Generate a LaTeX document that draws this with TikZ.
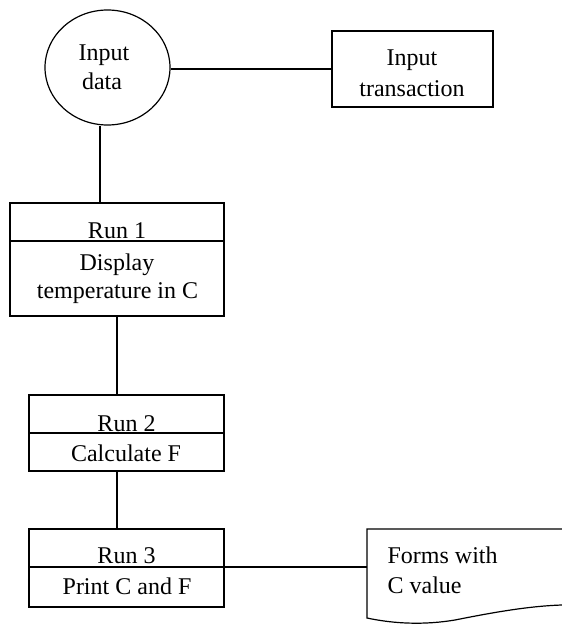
\documentclass[tikz,border=0pt]{standalone}
\usepackage{fontspec}
\setmainfont{Liberation Serif}
\usetikzlibrary{shapes.geometric}
\begin{document}
\begin{tikzpicture}[x=1pt,y=-1pt,line width=1.2pt,
  box/.style={draw,rectangle,inner sep=0pt},
  oval/.style={draw,ellipse,inner sep=0pt},
  txt/.style={inner sep=0pt,anchor=base,font=\fontsize{24}{28}\selectfont},
  ltxt/.style={txt,anchor=base west}]
\useasboundingbox (0,0) rectangle (562,624);
% Input data
\node[oval,minimum width=125pt,minimum height=115pt] (ell) at (107.5,67.5) {};
\node[txt] (ella) at (104,60) {Input};
\node[txt] (ellb) at (102,89) {data};
% Input transaction
\node[box,minimum width=161pt,minimum height=76pt] (tr) at (412.5,69) {};
\node[txt] (tra) at (412,65) {Input};
\node[txt] (trb) at (412,96) {transaction};
% Run 1
\node[box,minimum width=214pt,minimum height=113pt] (r1) at (117,259.5) {};
\coordinate (d1) at (0,241);
\draw (r1.west |- d1) -- (r1.east |- d1);
\node[txt] (r1a) at (117,238) {Run 1};
\node[txt] (r1b) at (117,270) {Display};
\node[txt] (r1c) at (117.5,298) {temperature in C};
% Run 2
\node[box,minimum width=195pt,minimum height=76pt] (r2) at (126.5,433) {};
\coordinate (d2) at (0,433);
\draw (r2.west |- d2) -- (r2.east |- d2);
\node[txt] (r2a) at (126.5,431) {Run 2};
\node[txt] (r2b) at (126,461.5) {Calculate F};
% Run 3
\node[box,minimum width=195pt,minimum height=78pt] (r3) at (126.5,568) {};
\coordinate (d3) at (0,567);
\draw (r3.west |- d3) -- (r3.east |- d3);
\node[txt] (r3a) at (126.5,563) {Run 3};
\node[txt] (r3b) at (127,594) {Print C and F};
% Document
\draw (562,529) -- (367,529) -- (367,618)
  .. controls (395,624) and (425,625) .. (455,620)
  .. controls (495,612) and (530,606) .. (562,605);
\coordinate (doc) at (367,567);
\node[ltxt] (doca) at (387,563) {Forms with};
\node[ltxt] (docb) at (387,593) {C value};
% Connectors
\coordinate (c1) at (100,203);
\draw (tr.west) -- (tr.west -| ell.east);
\draw (c1) -- (c1 |- ell.south);
\draw (r1.south) -- (r1.south |- r2.north);
\draw (r2.south -| r1.south) -- (r3.north -| r1.south);
\draw (r3.east |- d3) -- (doc);
\end{tikzpicture}
\end{document}
